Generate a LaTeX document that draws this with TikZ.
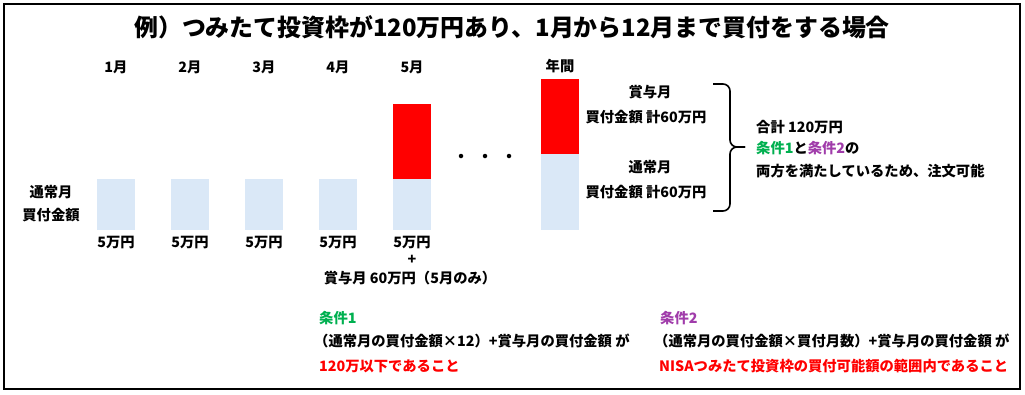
\documentclass[tikz,border=0pt]{standalone}
\usepackage{fontspec}
\setmainfont{Noto Sans CJK JP}
\definecolor{barblue}{HTML}{DAE8F7}
\definecolor{barred}{HTML}{FF0000}
\definecolor{condgreen}{HTML}{00B050}
\definecolor{condpurple}{RGB}{160,60,170}
\tikzset{
  lbl/.style={inner sep=0pt, font=\fontsize{14.3}{17}\selectfont\bfseries},
  lblw/.style={lbl, anchor=west},
  bluebar/.style={fill=barblue, draw=none, inner sep=0pt, minimum width=38pt},
  redbar/.style={fill=barred, draw=none, inner sep=0pt, minimum width=38pt},
  dotmark/.style={circle, fill=black, inner sep=0pt, minimum size=4.5pt},
  bracepart/.style={line width=1.6pt, rounded corners=7pt},
}
\begin{document}
\begin{tikzpicture}[x=1pt,y=-1pt]
\useasboundingbox (0,0) rectangle (1025,394);
\draw[line width=2.2pt] (4,4) rectangle (1020,389);
\node[inner sep=0pt, font=\fontsize{23.9}{28}\selectfont\bfseries] (title) at (512,27) {例）つみたて投資枠が120万円あり、1月から12月まで買付をする場合};
% month labels
\node[lbl] (m1) at (116,67) {1月};
\node[lbl] (m2) at (190,67) {2月};
\node[lbl] (m3) at (264,67) {3月};
\node[lbl] (m4) at (338,67) {4月};
\node[lbl] (m5) at (412,67) {5月};
\node[lbl] (my) at (560,66) {年間};
% bars
\node[bluebar, minimum height=51pt] (b1) at (116,204.5) {};
\node[bluebar, minimum height=51pt] (b2) at (190,204.5) {};
\node[bluebar, minimum height=51pt] (b3) at (264,204.5) {};
\node[bluebar, minimum height=51pt] (b4) at (338,204.5) {};
\node[bluebar, minimum height=51pt] (b5) at (412,204.5) {};
\node[redbar, minimum height=75pt] (r5) at (412,141.5) {};
\node[bluebar, minimum height=76pt] (by) at (560,192) {};
\node[redbar, minimum height=75pt] (ry) at (560,116.5) {};
% dots
\node[dotmark] (d1) at (461,156) {};
\node[dotmark] (d2) at (485,156) {};
\node[dotmark] (d3) at (509,156) {};
% left labels
\node[lbl] (n1) at (51,192) {通常月};
\node[lbl] (n2) at (51,215) {買付金額};
% amounts
\node[lbl] (a1) at (116,242) {5万円};
\node[lbl] (a2) at (190,242) {5万円};
\node[lbl] (a3) at (264,242) {5万円};
\node[lbl] (a4) at (338,242) {5万円};
\node[lbl] (a5) at (412,242) {5万円};
\node[lbl] (plus) at (412,260) {+};
\node[lbl] (bonus) at (410,278) {賞与月 60万円（5月のみ）};
% annual labels
\node[lbl] (y1) at (650,92) {賞与月};
\node[lbl] (y2) at (646,117) {買付金額 計60万円};
\node[lbl] (y3) at (650,167) {通常月};
\node[lbl] (y4) at (646,192) {買付金額 計60万円};
% brace
\coordinate (bt) at (713,84);
\coordinate (bb) at (713,211);
\coordinate (bm) at (730,147);
\coordinate (tip) at (745,147);
\draw[bracepart] (bt) -| (bm) -- (tip);
\draw[bracepart] (bb) -| (bm) -- (tip);
% summary
\node[lblw] (s1) at (756,127) {合計 120万円};
\node[lblw] (s2) at (756,148) {\textcolor{condgreen}{条件1}と\textcolor{condpurple}{条件2}の};
\node[lblw] (s3) at (756,171) {両方を満たしているため、注文可能};
% condition 1
\node[lblw, text=condgreen] (c1t) at (319,318) {条件1};
\node[lblw] (c1a) at (314,341) {（通常月の買付金額×12）+賞与月の買付金額 が};
\node[lblw, text=barred] (c1b) at (319,366) {120万以下であること};
% condition 2
\node[lblw, text=condpurple] (c2t) at (660,318) {条件2};
\node[lblw] (c2a) at (654,341) {（通常月の買付金額×買付月数）+賞与月の買付金額 が};
\node[lblw, text=barred] (c2b) at (659,366) {NISAつみたて投資枠の買付可能額の範囲内であること};
\end{tikzpicture}
\end{document}
